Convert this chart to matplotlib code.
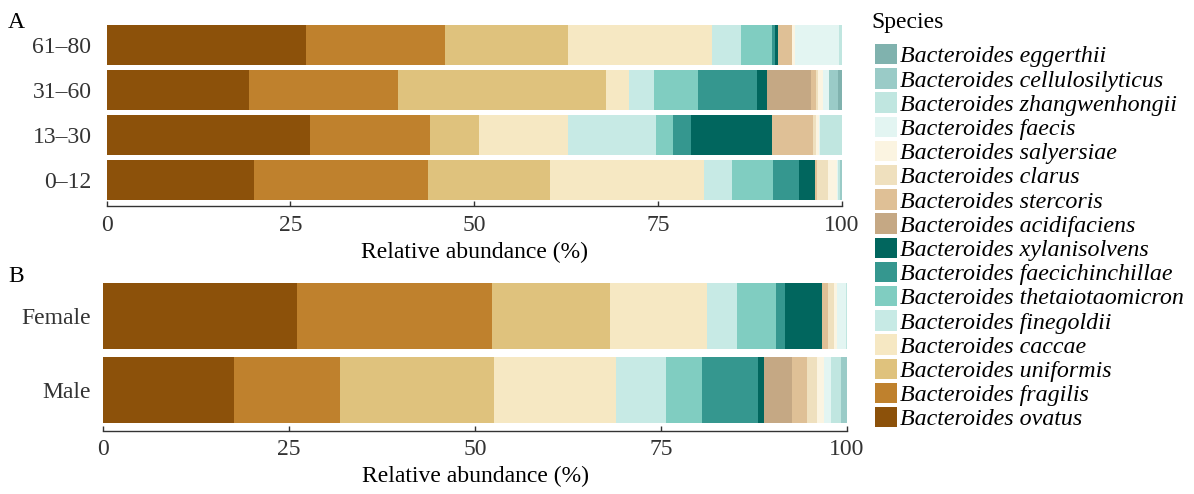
import matplotlib
matplotlib.use('Agg')
from matplotlib import pyplot as plt
import numpy as np

plt.rcParams['font.family'] = ['Liberation Serif', 'DejaVu Serif']

# species, left-to-right in the bars
species = ['ovatus', 'fragilis', 'uniformis', 'caccae', 'finegoldii', 'thetaiotaomicron',
           'faecichinchillae', 'xylanisolvens', 'acidifaciens', 'stercoris', 'clarus',
           'salyersiae', 'faecis', 'zhangwenhongii', 'cellulosilyticus', 'eggerthii']
colors = ['#8c510a', '#bf812d', '#dfc27d', '#f6e8c3', '#c7eae5', '#80cdc1', '#35978f', '#01665e',
          '#c5a884', '#dfc096', '#efe0be', '#fbf4e1', '#e3f5f2', '#c0e6e0', '#9acbc7', '#80b2ae']

# panel A: age groups (relative abundance, %)
age_groups = ['0\u201312', '13\u201330', '31\u201360', '61\u201380']
age_0_12 = [20.1, 23.6, 16.6, 20.9, 3.9, 5.6, 3.5, 2.2, 0.0, 0.3, 1.5, 1.1, 0.2, 0.3, 0.2, 0.0]
age_13_30 = [27.6, 16.4, 6.7, 12.1, 12.0, 2.2, 2.5, 11.0, 0.0, 5.6, 0.4, 0.4, 0.1, 3.0, 0.0, 0.0]
age_31_60 = [19.3, 20.4, 28.3, 3.0, 3.4, 6.1, 8.0, 1.3, 6.0, 0.7, 0.3, 0.6, 0.9, 0.0, 1.2, 0.5]
age_61_80 = [27.1, 18.9, 16.8, 19.6, 3.9, 4.2, 0.4, 0.5, 0.0, 1.9, 0.0, 0.4, 6.0, 0.3, 0.0, 0.0]

# panel B: sex
sexes = ['Male', 'Female']
male = [17.6, 14.2, 20.8, 16.4, 6.7, 4.8, 7.6, 0.8, 3.7, 2.0, 1.3, 1.0, 1.0, 1.3, 0.8, 0.0]
female = [26.0, 26.2, 15.9, 13.1, 4.0, 5.2, 1.2, 5.1, 0.0, 0.7, 0.8, 0.5, 1.1, 0.2, 0.0, 0.0]

W, H = 1194, 494
fig = plt.figure(figsize=(W / 100, H / 100), dpi=100)
txt_col = '#333333'
fs = 17


def stacked(ax, labels, rows, ylim, pad):
  data = np.array(rows).T  # species x groups
  y = np.arange(len(labels))
  left = np.zeros(len(labels))
  handles = []
  for i, sp in enumerate(species):
    h = ax.barh(y, data[i], left=left, height=0.9, color=colors[i], linewidth=0,
                label='Bacteroides ' + sp)
    handles.append(h)
    left += data[i]
  ax.set_xlim(0, 100)
  ax.set_ylim(*ylim)
  ax.set_yticks(y)
  ax.set_yticklabels(labels)
  ax.set_xticks([0, 25, 50, 75, 100])
  for s in ['top', 'right', 'left']:
    ax.spines[s].set_visible(False)
  ax.spines['bottom'].set_color(txt_col)
  ax.spines['bottom'].set_linewidth(1.0)
  ax.tick_params(axis='x', direction='in', length=3.5, width=1.0, color=txt_col,
                 labelsize=fs, labelcolor=txt_col, pad=6)
  ax.tick_params(axis='y', length=0, labelsize=fs, labelcolor=txt_col, pad=pad)
  ax.set_xlabel('Relative abundance (%)', fontsize=fs, color='black', labelpad=4)
  return handles


axA = fig.add_axes([106.7 / W, 1 - 206.5 / H, 735 / W, 188.5 / H])
handles = stacked(axA, age_groups, [age_0_12, age_13_30, age_31_60, age_61_80], (-0.59, 3.6), 11)

axB = fig.add_axes([103.3 / W, 1 - 431 / H, 743.7 / W, 159 / H])
stacked(axB, sexes, [male, female], (-0.562, 1.6), 9)

fig.text(8 / W, 1 - 28 / H, 'A', fontsize=fs, color='black')
fig.text(8 / W, 1 - 282 / H, 'B', fontsize=fs, color='black')

# legend title drawn separately so the gap to the keys can be set
fig.text(871 / W, 1 - 28 / H, 'Species', fontsize=fs, color='black')
leg = fig.legend(handles[::-1], ['Bacteroides ' + s for s in species[::-1]],
                 loc='upper left', bbox_to_anchor=(875 / W, 1 - 44 / H),
                 frameon=False,
                 prop={'style': 'italic', 'size': 17.3},
                 handlelength=0.93, handleheight=0.93, handletextpad=0.12,
                 labelspacing=0.03, borderpad=0.0, borderaxespad=0.0)

fig.savefig('out.png', dpi=100)
